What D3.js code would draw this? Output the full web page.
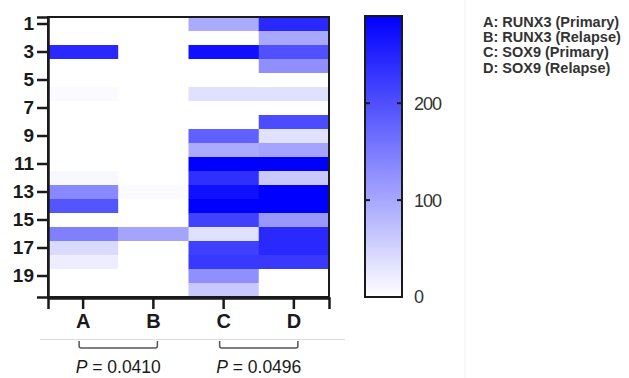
<!DOCTYPE html>
<html><head><meta charset="utf-8">
<script src="https://cdn.jsdelivr.net/npm/d3@7"></script>
<style>body{margin:0;background:#fff}svg{display:block}</style>
</head><body>
<script>
const columns = ["A","B","C","D"];
const rows = d3.range(1,21);
const valuesA = [0,0,245,0,0,5,0,0,0,0,0,8,135,193,0,145,42,20,0,0];
const valuesB = [0,0,0,0,0,0,0,0,0,0,0,0,4,0,0,103,0,0,0,0];
const valuesC = [97,0,272,0,0,35,0,0,181,97,290,236,272,290,217,35,217,226,127,63];
const valuesD = [243,99,199,127,0,35,0,205,35,103,290,63,290,290,117,243,243,226,0,0];
const yTickLabels = [1,3,5,7,9,11,13,15,17,19];
const colorTicks = [0,100,200];
const legendLabels = ["A: RUNX3 (Primary)","B: RUNX3 (Relapse)","C: SOX9 (Primary)","D: SOX9 (Relapse)"];
const pLabels = [{pair:["A","B"], p:"0.0410"},{pair:["C","D"], p:"0.0496"}];
const maxValue = 290;

const series = [valuesA, valuesB, valuesC, valuesD];
const cells = [];
columns.forEach((c,i)=>rows.forEach((r,j)=>cells.push({col:c,row:r,v:series[i][j]})));

const W=629,H=378;
const svg=d3.select("body").append("svg").attr("width",W).attr("height",H);
const font="'Liberation Sans', Arial, Helvetica, sans-serif";

// faint composition lines
svg.append("line").attr("x1",465).attr("x2",465).attr("y1",0).attr("y2",H).attr("stroke","#f0f0f0").attr("stroke-width",1);
svg.append("line").attr("x1",40).attr("x2",345).attr("y1",339.5).attr("y2",339.5).attr("stroke","#dcdcdc").attr("stroke-width",1);

const x=d3.scaleBand().domain(columns).range([48,329]).padding(0);
const y=d3.scaleBand().domain(rows).range([17,297]).padding(0);
const color=d3.scaleLinear().domain([0,maxValue]).range(["#ffffff","#0000ff"]).clamp(true);

svg.append("g").selectAll("rect").data(cells).join("rect")
  .attr("x",d=>x(d.col)).attr("y",d=>y(d.row))
  .attr("width",x.bandwidth()+0.5).attr("height",y.bandwidth()+0.5)
  .attr("fill",d=>color(d.v));

// frame
svg.append("rect").attr("x",48).attr("y",17).attr("width",281).attr("height",280)
  .attr("fill","none").attr("stroke","#1a1a1a").attr("stroke-width",2);

// y axis
const yAxis=d3.axisLeft(y).tickValues(yTickLabels).tickSize(11).tickPadding(3);
const gy=svg.append("g").attr("transform","translate(48,0)").call(yAxis);
gy.select(".domain").attr("stroke","#1a1a1a").attr("stroke-width",2.5);
gy.selectAll(".tick line").attr("stroke","#1a1a1a").attr("stroke-width",2.5);
gy.selectAll(".tick text").attr("font-family",font).attr("font-weight","bold").attr("font-size",19).attr("fill","#1a1a1a");

// x axis
const xAxis=d3.axisBottom(x).tickSize(11).tickPadding(5);
const gx=svg.append("g").attr("transform","translate(0,298)").call(xAxis);
gx.select(".domain").attr("stroke","#1a1a1a").attr("stroke-width",2.5);
gx.selectAll(".tick line").attr("stroke","#1a1a1a").attr("stroke-width",2.5);
gx.selectAll(".tick text").attr("font-family",font).attr("font-weight","bold").attr("font-size",20).attr("fill","#1a1a1a");

// color bar
const cb={x:365,y:16,w:37,h:281};
const cy=d3.scaleLinear().domain([0,maxValue]).range([cb.y+cb.h,cb.y]);
const defs=svg.append("defs");
const grad=defs.append("linearGradient").attr("id","cbg").attr("x1",0).attr("y1",1).attr("x2",0).attr("y2",0);
grad.append("stop").attr("offset","0%").attr("stop-color",color(0));
grad.append("stop").attr("offset","100%").attr("stop-color",color(maxValue));
svg.append("rect").attr("x",cb.x).attr("y",cb.y).attr("width",cb.w).attr("height",cb.h)
  .attr("fill","url(#cbg)").attr("stroke","#1a1a1a").attr("stroke-width",2);
const ticksG=svg.append("g");
colorTicks.filter(t=>t>0).forEach(t=>{
  ticksG.append("line").attr("x1",cb.x).attr("x2",cb.x+5).attr("y1",cy(t)).attr("y2",cy(t)).attr("stroke","#1a1a1a").attr("stroke-width",2);
  ticksG.append("line").attr("x1",cb.x+cb.w-5).attr("x2",cb.x+cb.w).attr("y1",cy(t)).attr("y2",cy(t)).attr("stroke","#1a1a1a").attr("stroke-width",2);
});
svg.append("g").selectAll("text").data(colorTicks).join("text")
  .attr("x",414).attr("y",d=>cy(d)).attr("dy","0.36em")
  .attr("font-family",font).attr("font-size",18).attr("letter-spacing",-1).attr("fill","#333")
  .text(d=>d);

// legend
svg.append("g").selectAll("text").data(legendLabels).join("text")
  .attr("x",483).attr("y",(d,i)=>27+i*15.2)
  .attr("font-family",font).attr("font-weight","bold").attr("font-size",14.5).attr("fill","#333")
  .text(d=>d);

// p-value brackets
pLabels.forEach(pl=>{
  const x1=x(pl.pair[0])+x.bandwidth()/2-4, x2=x(pl.pair[1])+x.bandwidth()/2+4;
  const r=2, top=341, bot=348;
  svg.append("path")
    .attr("d",`M${x1},${top} L${x1},${bot-r} Q${x1},${bot} ${x1+r},${bot} L${x2-r},${bot} Q${x2},${bot} ${x2},${bot-r} L${x2},${top}`)
    .attr("fill","none").attr("stroke","#555").attr("stroke-width",1.5);
  const t=svg.append("text").attr("x",(x1+x2)/2).attr("y",373).attr("text-anchor","middle")
    .attr("font-family",font).attr("font-size",17.5).attr("fill","#1a1a1a");
  t.append("tspan").attr("font-style","italic").text("P");
  t.append("tspan").text(" = "+pl.p);
});
</script>
</body></html>
